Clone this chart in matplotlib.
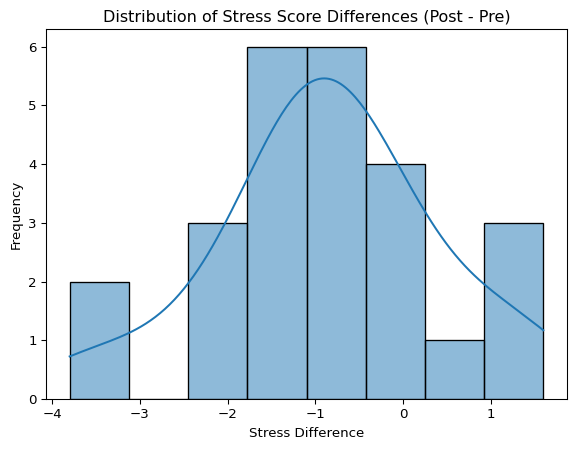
import numpy as np
import matplotlib
matplotlib.use("Agg")
import matplotlib.pyplot as plt
import seaborn as sns

# estimated post - pre stress score differences (25 participants)
stress_diff = [-3.8, -3.15,
               -2.4, -2.1, -1.85,
               -1.55, -1.4, -1.3, -1.2, -1.15, -1.1,
               -1.0, -0.9, -0.8, -0.7, -0.6, -0.5,
               -0.3, -0.2, 0.0, 0.1,
               0.4,
               1.0, 1.2, 1.6]

W, H, DPI = 576, 449, 96
fig = plt.figure(figsize=(W / DPI, H / DPI), dpi=DPI)
ax = fig.add_axes([46 / W, (H - 399) / H, 521 / W, 370 / H])
sns.histplot(stress_diff, bins=8, kde=True, ax=ax)
ax.set_title("Distribution of Stress Score Differences (Post - Pre)")
ax.set_xlabel("Stress Difference")
ax.set_ylabel("Frequency")

plt.savefig("out.png", dpi=DPI)
